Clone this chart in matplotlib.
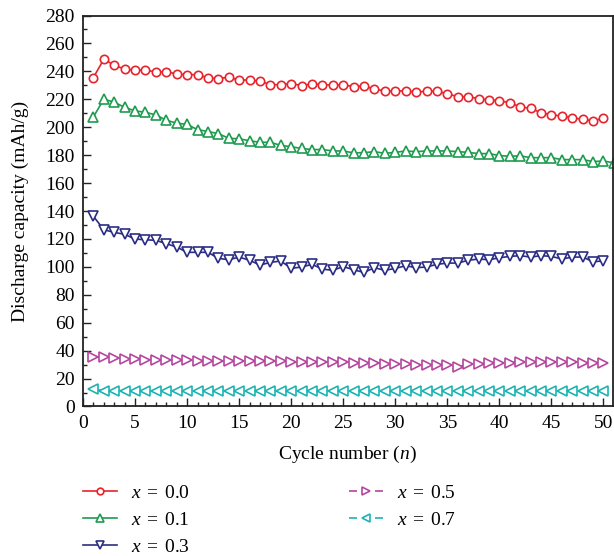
import numpy as np
import matplotlib
matplotlib.use("Agg")
import matplotlib.pyplot as plt
from matplotlib.ticker import MultipleLocator

plt.rcParams["font.family"] = ["Liberation Serif", "DejaVu Serif"]
plt.rcParams["mathtext.fontset"] = "custom"
plt.rcParams["mathtext.rm"] = "Liberation Serif"
plt.rcParams["mathtext.it"] = "Liberation Serif:italic"

# Discharge capacity (mAh/g) per cycle for each composition x
cycles = list(range(1, 51))
cycles_x01 = list(range(1, 52))

cap_x00 = [235.6, 248.7, 244.4, 241.6, 240.9, 241.1, 239.4, 239.9, 238.0, 237.7,
           237.7, 235.3, 234.8, 235.8, 233.7, 233.9, 233.0, 230.5, 230.5, 231.3,
           229.8, 231.0, 230.5, 230.2, 230.3, 229.1, 229.6, 227.2, 226.0, 225.8,
           226.2, 225.1, 225.8, 225.8, 223.9, 221.9, 221.9, 220.5, 219.6, 218.9,
           217.6, 214.5, 213.6, 210.3, 209.0, 207.9, 206.7, 205.7, 204.5, 206.5]

cap_x01 = [207.4, 220.1, 217.9, 214.2, 211.7, 210.7, 208.8, 205.0, 202.9, 202.0,
           198.3, 196.9, 195.4, 192.1, 191.7, 190.3, 189.2, 189.2, 187.0, 186.0,
           184.8, 184.0, 184.0, 183.0, 183.0, 181.6, 181.8, 182.5, 181.3, 182.0,
           183.0, 182.5, 183.0, 183.0, 183.0, 182.5, 182.0, 181.1, 181.1, 179.7,
           179.2, 179.5, 178.2, 178.2, 178.2, 176.8, 176.8, 176.8, 175.4, 175.8,
           174.5]

cap_x03 = [136.2, 126.6, 124.7, 123.3, 119.9, 119.4, 119.0, 116.6, 114.2, 110.4,
           110.4, 110.4, 106.1, 105.1, 107.0, 104.7, 101.3, 103.2, 104.2, 98.9,
           99.9, 101.8, 98.4, 97.5, 100.2, 97.9, 96.0, 99.4, 97.5, 98.9,
           100.8, 99.4, 99.9, 101.8, 102.7, 102.7, 104.7, 105.6, 105.1, 106.5,
           107.5, 108.0, 107.0, 108.0, 107.5, 105.6, 107.0, 107.0, 103.7, 104.2]

cap_x05 = [35.8, 35.3, 34.6, 34.1, 33.8, 33.6, 33.4, 33.3, 33.2, 33.0,
           32.9, 32.8, 32.7, 32.6, 32.5, 32.5, 32.4, 32.3, 32.3, 32.2,
           32.1, 32.0, 31.9, 31.8, 31.6, 31.4, 31.1, 30.8, 30.6, 30.4,
           30.2, 30.0, 29.8, 29.6, 29.4, 28.2, 30.4, 30.6, 30.9, 31.2,
           31.5, 31.8, 32.0, 31.9, 31.8, 31.7, 31.6, 31.4, 31.2, 31.0]

cap_x07 = [12.2, 11.4, 11.3, 11.3, 11.3, 11.3, 11.3, 11.3, 11.3, 11.3,
           11.3, 11.3, 11.3, 11.3, 11.3, 11.3, 11.3, 11.3, 11.3, 11.3,
           11.3, 11.3, 11.3, 11.3, 11.3, 11.3, 11.3, 11.3, 11.3, 11.3,
           11.3, 11.3, 11.3, 11.3, 11.3, 11.3, 11.3, 11.3, 11.3, 11.3,
           11.3, 11.3, 11.3, 11.3, 11.3, 11.3, 11.3, 11.3, 11.3, 11.3]

labels = [r"$x\;=\;0.0$", r"$x\;=\;0.1$", r"$x\;=\;0.3$",
          r"$x\;=\;0.5$", r"$x\;=\;0.7$"]
x_ticks = [0, 5, 10, 15, 20, 25, 30, 35, 40, 45, 50]
y_ticks = list(range(0, 281, 20))

fig = plt.figure(figsize=(6.14, 5.56), dpi=100)
ax = fig.add_axes([0.1352, 0.2689, 0.8624, 0.7032])

dashed = (0, (4.8, 10.8))
series = [
    (cycles, cap_x00, "#E8232B", "o", 6.0, "-"),
    (cycles_x01, cap_x01, "#1E9B4F", "^", 7.5, "-"),
    (cycles, cap_x03, "#2B2D84", "v", 7.5, "-"),
    (cycles, cap_x05, "#B5469E", ">", 7.5, dashed),
    (cycles, cap_x07, "#1DB3B3", "<", 7.5, dashed),
]
for (xs, ys, col, mk, ms, ls), lab in zip(series, labels):
    ax.plot(xs, ys, color=col, linestyle=ls, linewidth=1.2, marker=mk,
            markersize=ms, markerfacecolor="white", markeredgecolor=col,
            markeredgewidth=1.2, label=lab)

ax.set_xlim(0, 50.87)
ax.set_ylim(0, 280)
ax.set_xticks(x_ticks)
ax.set_yticks(y_ticks)
ax.xaxis.set_minor_locator(MultipleLocator(1))
ax.yaxis.set_minor_locator(MultipleLocator(10))
ax.tick_params(which="both", direction="in", top=False, right=False,
               labelsize=14, width=1.0, color="#222222")
ax.tick_params(which="major", length=5.5)
ax.tick_params(which="minor", length=2.8)
ax.tick_params(axis="y", pad=6)
ax.tick_params(axis="x", pad=6)
for sp in ax.spines.values():
    sp.set_linewidth(1.3)
    sp.set_color("#222222")

ax.set_xlabel(r"Cycle number ($n$)", fontsize=14, labelpad=9)
ax.set_ylabel("Discharge capacity (mAh/g)", fontsize=14, labelpad=12)

fig.legend(loc="upper left", bbox_to_anchor=(0.1352, 0.1294),
           bbox_transform=fig.transFigure, ncol=2, frameon=False,
           fontsize=14, handlelength=1.75, handletextpad=0.7,
           columnspacing=8.2, labelspacing=0.48, borderpad=0, borderaxespad=0,
           markerscale=0.8)

fig.savefig("out.png", dpi=100)
